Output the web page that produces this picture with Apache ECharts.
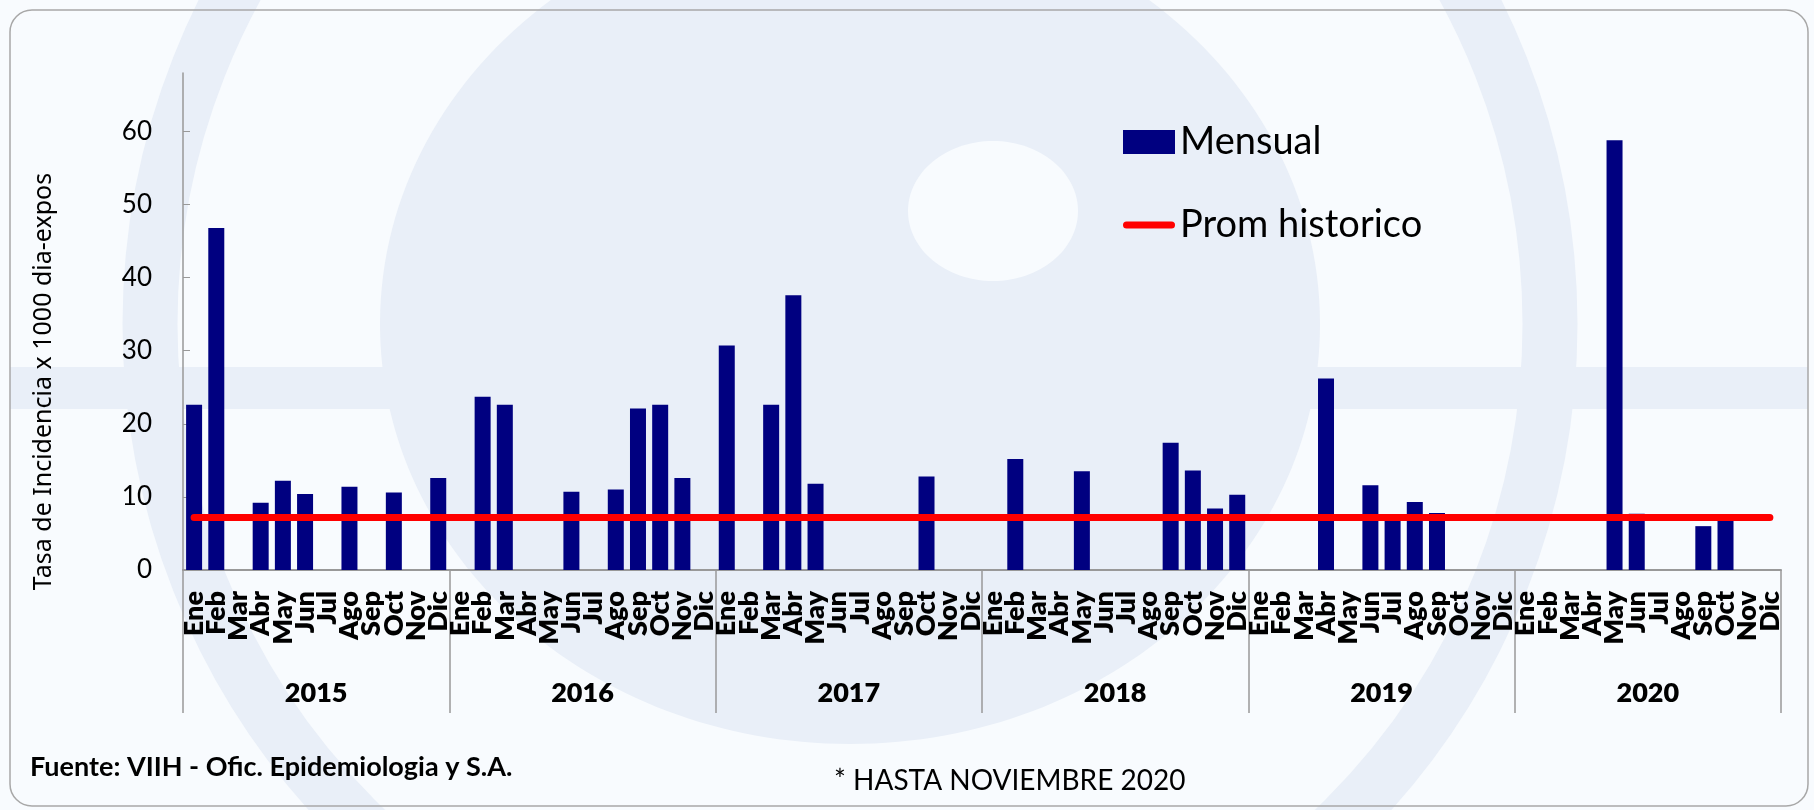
<!DOCTYPE html>
<html>
<head>
<meta charset="utf-8">
<script src="https://cdn.jsdelivr.net/npm/echarts@6/dist/echarts.min.js"></script>
<style>
  html, body { margin: 0; padding: 0; background: #f8fbfe; }
  #chart { width: 1814px; height: 810px; }
</style>
</head>
<body>
<div id="chart"></div>
<script>
var years = ['2015', '2016', '2017', '2018', '2019', '2020'];
var months = ['Ene', 'Feb', 'Mar', 'Abr', 'May', 'Jun', 'Jul', 'Ago', 'Sep', 'Oct', 'Nov', 'Dic'];
var yTicks = [0, 10, 20, 30, 40, 50, 60];

// tasa mensual por año (null = sin casos)
var mensual2015 = [22.6, 46.8, null, 9.2, 12.2, 10.4, null, 11.4, null, 10.6, null, 12.6];
var mensual2016 = [null, 23.7, 22.6, null, null, 10.7, null, 11.0, 22.1, 22.6, 12.6, null];
var mensual2017 = [30.7, null, 22.6, 37.6, 11.8, null, null, null, null, 12.8, null, null];
var mensual2018 = [null, 15.2, null, null, 13.5, null, null, null, 17.4, 13.6, 8.4, 10.3];
var mensual2019 = [null, null, null, 26.2, null, 11.6, 7.1, 9.3, 7.8, null, null, null];
var mensual2020 = [null, null, null, null, 58.8, 7.7, null, null, 6.0, 7.0, null, null];
var promHistorico = 7.2;

var chart = echarts.init(document.getElementById('chart'));

var categories = [];
years.forEach(function() {
  months.forEach(function(m) {
    categories.push(m);
  });
});
var mensual = [].concat(mensual2015, mensual2016, mensual2017, mensual2018, mensual2019, mensual2020);
var prom = categories.map(function() { return promHistorico; });

var font = 'Lato';
var wmColor = '#e9eff8';
// icono de linea con extremos redondeados (52 x 7)
var lineIcon = 'path://M3.5,0 L48.5,0 A3.5,3.5 0 0 1 48.5,7 L3.5,7 A3.5,3.5 0 0 1 3.5,0 Z';

var option = {
  backgroundColor: '#f8fbfe',
  textStyle: { fontFamily: font },
  animation: false,
  graphic: [
    // marca de agua
    { type: 'circle', z: -100, shape: { cx: 850, cy: 324, r: 700 }, style: { fill: 'none', stroke: wmColor, lineWidth: 55 } },
    { type: 'ellipse', z: -99, shape: { cx: 850, cy: 324, rx: 470, ry: 420 }, style: { fill: wmColor } },
    { type: 'rect', z: -99, shape: { x: 10, y: 367, width: 1798, height: 42 }, style: { fill: wmColor } },
    { type: 'ellipse', z: -98, shape: { cx: 993, cy: 211, rx: 85, ry: 70 }, style: { fill: '#f8fbfe' } },
    // marco
    { type: 'rect', z: 50, shape: { x: 10, y: 10, width: 1798, height: 796, r: 22 }, style: { fill: 'none', stroke: '#a8a8a8', lineWidth: 1.5 } },
    { type: 'text', z: 50, left: 30, top: 754, style: { text: 'Fuente: VIIH - Ofic. Epidemiologia y S.A.', fill: '#000', font: 'bold 27px ' + font } },
    { type: 'text', z: 50, left: 834, top: 767, style: { text: '* HASTA NOVIEMBRE 2020', fill: '#000', font: '28px ' + font } }
  ],
  grid: { left: 183, right: 33, top: 73, bottom: 240 },
  legend: [
    {
      left: 1118,
      top: 118,
      itemWidth: 52,
      itemHeight: 24,
      textStyle: { fontSize: 38, color: '#000', fontFamily: font },
      data: [{ name: 'Mensual', icon: 'rect' }]
    },
    {
      left: 1118,
      top: 201,
      itemWidth: 52,
      itemHeight: 7,
      textStyle: { fontSize: 38, color: '#000', fontFamily: font },
      data: [{ name: 'Prom historico', icon: lineIcon }]
    }
  ],
  xAxis: [
    {
      type: 'category',
      data: categories,
      position: 'bottom',
      axisLine: { lineStyle: { color: '#999', width: 2 } },
      axisTick: { show: false },
      axisLabel: { interval: 0, rotate: 90, margin: 21, fontSize: 27, fontWeight: 800, color: '#000' }
    },
    {
      type: 'category',
      data: years,
      position: 'bottom',
      axisLine: { show: false },
      axisTick: { show: true, length: 143, interval: 0, lineStyle: { color: '#999', width: 1.5 } },
      axisLabel: { interval: 0, margin: 110, fontSize: 27, fontWeight: 800, color: '#000' }
    }
  ],
  yAxis: {
    type: 'value',
    min: 0,
    max: 68,
    name: 'Tasa de Incidencia x 1000 dia-expos',
    nameLocation: 'middle',
    nameGap: 127,
    nameTextStyle: { fontSize: 25, color: '#000', fontFamily: 'Noto Sans', padding: [0, 120, 0, 0] },
    splitLine: { show: false },
    axisLine: { show: true, lineStyle: { color: '#999', width: 1.5 } },
    axisTick: { show: true, inside: true, length: 7, customValues: yTicks, lineStyle: { color: '#999' } },
    axisLabel: { margin: 31, fontSize: 26, color: '#000', customValues: yTicks }
  },
  series: [
    {
      name: 'Mensual',
      type: 'bar',
      xAxisIndex: 0,
      data: mensual,
      barWidth: 16,
      itemStyle: { color: '#000080' }
    },
    {
      name: 'Prom historico',
      type: 'line',
      xAxisIndex: 0,
      data: prom,
      symbol: 'none',
      itemStyle: { color: '#ff0000' },
      lineStyle: { color: '#ff0000', width: 7, cap: 'round' }
    }
  ]
};

chart.setOption(option);
</script>
</body>
</html>
